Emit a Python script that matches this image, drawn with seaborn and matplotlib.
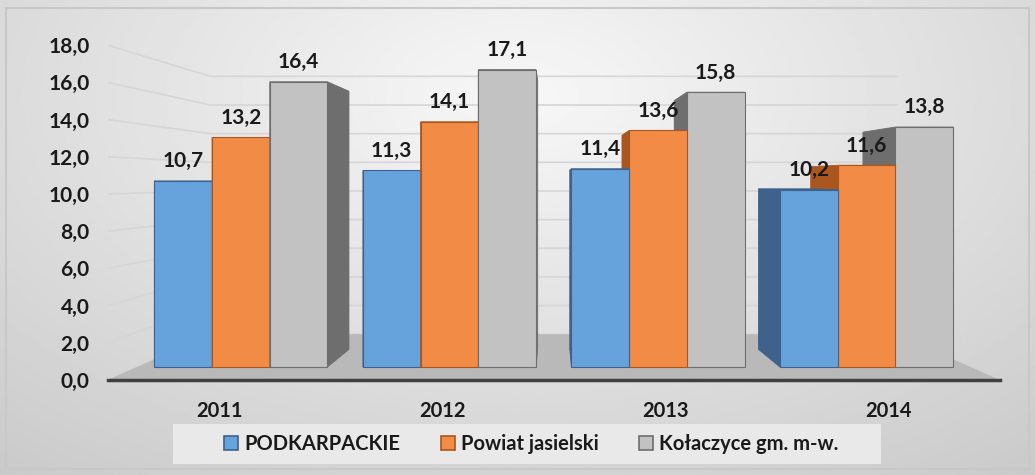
import numpy as np
import pandas as pd
import matplotlib
matplotlib.use("Agg")
import matplotlib.pyplot as plt
from matplotlib.patches import Rectangle, Polygon
import seaborn as sns

years = ["2011", "2012", "2013", "2014"]
series = ["PODKARPACKIE", "Powiat jasielski", "Kołaczyce gm. m-w."]
podkarpackie = [10.7, 11.3, 11.4, 10.2]
powiat = [13.2, 14.1, 13.6, 11.6]
kolaczyce = [16.4, 17.1, 15.8, 13.8]
colors = ["#66A2DB", "#F28B45", "#C2C2C2"]
side_colors = ["#3F628C", "#A9561F", "#6E6E6E"]

df = pd.DataFrame({
    "rok": years * 3,
    "seria": [s for s in series for _ in years],
    "wartosc": podkarpackie + powiat + kolaczyce,
})

# fake 3D perspective: everything shrinks toward a vanishing point
VPX, VPY = 1.5, 10.7
FRONT = 0.935   # bar front faces
BACK = 0.905    # bar back faces, relative to the front
WALL = 0.77     # back wall / floor edge


def toward(x, y, s):
    return VPX + s * (x - VPX), VPY + s * (y - VPY)


def hull(pts):
    pts = sorted(set(pts))
    def cross(o, a, b):
        return (a[0] - o[0]) * (b[1] - o[1]) - (a[1] - o[1]) * (b[0] - o[0])
    lower, upper = [], []
    for p in pts:
        while len(lower) >= 2 and cross(lower[-2], lower[-1], p) <= 0:
            lower.pop()
        lower.append(p)
    for p in reversed(pts):
        while len(upper) >= 2 and cross(upper[-2], upper[-1], p) <= 0:
            upper.pop()
        upper.append(p)
    return lower[:-1] + upper[:-1]


def fmt(v):
    return f"{v:.1f}".replace(".", ",")


sns.set_theme(style="white")
plt.rcParams["font.family"] = ["Lato", "DejaVu Sans"]
plt.rcParams["font.weight"] = "bold"

fig = plt.figure(figsize=(10.35, 4.75), dpi=100)

# gradient background of the chart area
bg = fig.add_axes([0, 0, 1, 1], zorder=-2)
yy, xx = np.mgrid[0:1:200j, 0:1:400j]
r = np.sqrt(((xx - 0.5) / 0.75) ** 2 + ((yy - 0.2) / 0.95) ** 2)
img = 0.97 - 0.2 * np.clip(r, 0, 1.2) / 1.2
bg.imshow(img, cmap="gray", vmin=0, vmax=1, aspect="auto", extent=[0, 1, 0, 1], origin="upper")
bg.add_patch(Rectangle((0.006, 0.012), 0.988, 0.972, transform=bg.transAxes,
                       fill=False, ec="#C8C8C8", lw=1.5))
bg.axis("off")

ax = fig.add_axes([0.104, 0.2, 0.862, 0.705])
ax.patch.set_alpha(0)

sns.barplot(data=df, x="rok", y="wartosc", hue="seria", palette=colors,
            width=0.83, ax=ax, legend=True, saturation=1)

ax.set_xlim(-0.5, 3.5)
ax.set_ylim(0, 18)
ticks = np.arange(0, 18.1, 2)

# floor
fl = [(-0.5, 0), (3.5, 0), toward(3.5, 0, WALL), toward(-0.5, 0, WALL)]
ax.add_patch(Polygon(fl, closed=True, fc="#B9B9B9", ec="none", zorder=1))

# gridlines on the side and back walls
for t in ticks:
    p1 = toward(-0.5, t, WALL)
    p2 = toward(3.5, t, WALL)
    ax.plot([-0.5, p1[0], p2[0]], [t, p1[1], p2[1]], color="#D6D6D6", lw=1.2, zorder=0.5,
            solid_joinstyle="miter")

for i, cont in enumerate(ax.containers):
    for bar in cont:
        x0, w, h = bar.get_x(), bar.get_width(), bar.get_height()
        fx0, fy0 = toward(x0, 0, FRONT)
        fx1, fy1 = toward(x0 + w, h, FRONT)
        bar.set_x(fx0)
        bar.set_width(fx1 - fx0)
        bar.set_y(fy0)
        bar.set_height(fy1 - fy0)
        front = [(fx0, fy0), (fx1, fy0), (fx1, fy1), (fx0, fy1)]
        back = [toward(px, py, BACK) for px, py in front]
        z = 5 - abs((fx0 + fx1) / 2 - VPX)
        bar.set_zorder(z)
        bar.set_edgecolor(side_colors[i])
        bar.set_linewidth(0.8)
        side = Polygon(hull(front + back), closed=True, fc=side_colors[i],
                       ec=side_colors[i], lw=0.6, zorder=z - 0.01)
        ax.add_patch(side)
    ax.bar_label(cont, labels=[fmt(v) for v in cont.datavalues],
                 padding=7, fontsize=15, fontweight="bold", color="#1A1A1A", zorder=10)

ax.set_yticks(ticks)
ax.set_yticklabels([fmt(v) for v in ticks])
ax.tick_params(axis="y", labelsize=15, length=0, pad=13)
ax.tick_params(axis="x", labelsize=14.5, length=0, pad=15)
for lab in ax.get_xticklabels() + ax.get_yticklabels():
    lab.set_fontweight("bold")
    lab.set_color("#1A1A1A")
ax.grid(False)
ax.set_xlabel("")
ax.set_ylabel("")
for s in ["top", "right", "left"]:
    ax.spines[s].set_visible(False)
ax.spines["bottom"].set_color("#404040")
ax.spines["bottom"].set_linewidth(2.5)
ax.spines["bottom"].set_zorder(2)

# legend box drawn separately, entries centered inside it
ax.add_patch(Rectangle((0.073, -0.251), 0.794, 0.12, transform=ax.transAxes,
                       fc="#E9E9E9", ec="none", clip_on=False, zorder=0))
leg = ax.legend(loc="center", bbox_to_anchor=(0.475, -0.191), ncol=3, frameon=False,
                fontsize=14.5, handlelength=0.7, handleheight=0.7, handletextpad=0.3,
                columnspacing=2.0, borderpad=0.2)
for t in leg.get_texts():
    t.set_fontweight("bold")
    t.set_color("#1A1A1A")
for h, ec in zip(leg.legend_handles, side_colors):
    h.set_edgecolor(ec)
    h.set_linewidth(1.2)

fig.savefig("out.png", dpi=100)
